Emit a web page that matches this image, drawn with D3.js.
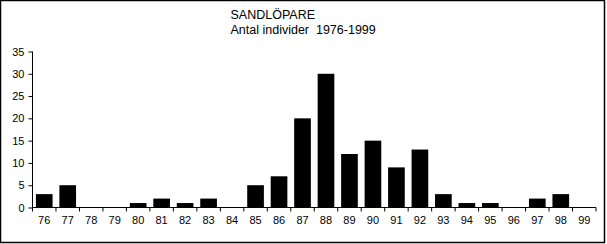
<!DOCTYPE html>
<meta charset="utf-8">
<style>
body { margin: 0; background: #fff; }
text { font-family: "Liberation Sans", Arial, sans-serif; fill: #000; }
.title { white-space: pre; }
.axis path, .axis line { stroke: #000; }
</style>
<body>
<script src="https://d3js.org/d3.v7.min.js"></script>
<script>
// data
var years = ["76","77","78","79","80","81","82","83","84","85","86","87",
             "88","89","90","91","92","93","94","95","96","97","98","99"];
var counts = [3,5,0,0,1,2,1,2,0,5,7,20,30,12,15,9,13,3,1,1,0,2,3,0];
var yTicks = [0,5,10,15,20,25,30,35];
var titleLines = ["SANDLÖPARE", "Antal individer  1976-1999"];

var W = 607, H = 244;
var margin = {top: 51.5, left: 32.5, right: 11, bottom: 36.5};

var svg = d3.select("body").append("svg")
    .attr("width", W)
    .attr("height", H);

// outer frame
svg.append("rect")
    .attr("x", 0.5).attr("y", 0.5)
    .attr("width", 604).attr("height", 242)
    .attr("fill", "none").attr("stroke", "#000").attr("stroke-width", 1.5);

var x = d3.scaleBand()
    .domain(years)
    .range([margin.left, 596])
    .paddingInner(0.29)
    .paddingOuter(0.145);

var y = d3.scaleLinear()
    .domain([0, 35])
    .range([207.5, margin.top]);

// bars
svg.selectAll(".bar")
    .data(years)
  .enter().append("rect")
    .attr("class", "bar")
    .attr("x", function(d) { return x(d); })
    .attr("width", x.bandwidth())
    .attr("y", function(d, i) { return y(counts[i]); })
    .attr("height", function(d, i) { return y(0) - y(counts[i]); })
    .attr("fill", "#000");

// y axis
var yAxis = svg.append("g")
    .attr("class", "axis")
    .attr("transform", "translate(" + margin.left + ",0)")
    .call(d3.axisLeft(y).tickValues(yTicks).tickSize(4).tickSizeOuter(0));
yAxis.selectAll("text").attr("font-size", 11).attr("x", -8);
yAxis.select(".domain").attr("d", "M0," + y(35) + "V" + y(0));

// x axis, ticks between the categories
var xAxis = svg.append("g")
    .attr("class", "axis")
    .attr("transform", "translate(0," + y(0) + ")");
xAxis.append("line")
    .attr("x1", margin.left).attr("x2", 596)
    .attr("stroke", "#000");
var step = x.step();
var bounds = years.map(function(d) { return x(d) + x.bandwidth() / 2 - step / 2; });
bounds.push(596);
xAxis.selectAll(".tk")
    .data(bounds)
  .enter().append("line")
    .attr("class", "tk")
    .attr("x1", function(d) { return d; }).attr("x2", function(d) { return d; })
    .attr("y1", 0).attr("y2", 4)
    .attr("stroke", "#000");
xAxis.selectAll(".lbl")
    .data(years)
  .enter().append("text")
    .attr("class", "lbl")
    .attr("x", function(d) { return x(d) + x.bandwidth() / 2; })
    .attr("y", 16.5)
    .attr("text-anchor", "middle")
    .attr("font-size", 11)
    .text(function(d) { return d; });

// title
svg.selectAll(".title")
    .data(titleLines)
  .enter().append("text")
    .attr("class", "title")
    .attr("x", 230.5)
    .attr("y", function(d, i) { return 18.5 + i * 15.8; })
    .attr("font-size", 12.5)
    .text(function(d) { return d; });
</script>
</body>
